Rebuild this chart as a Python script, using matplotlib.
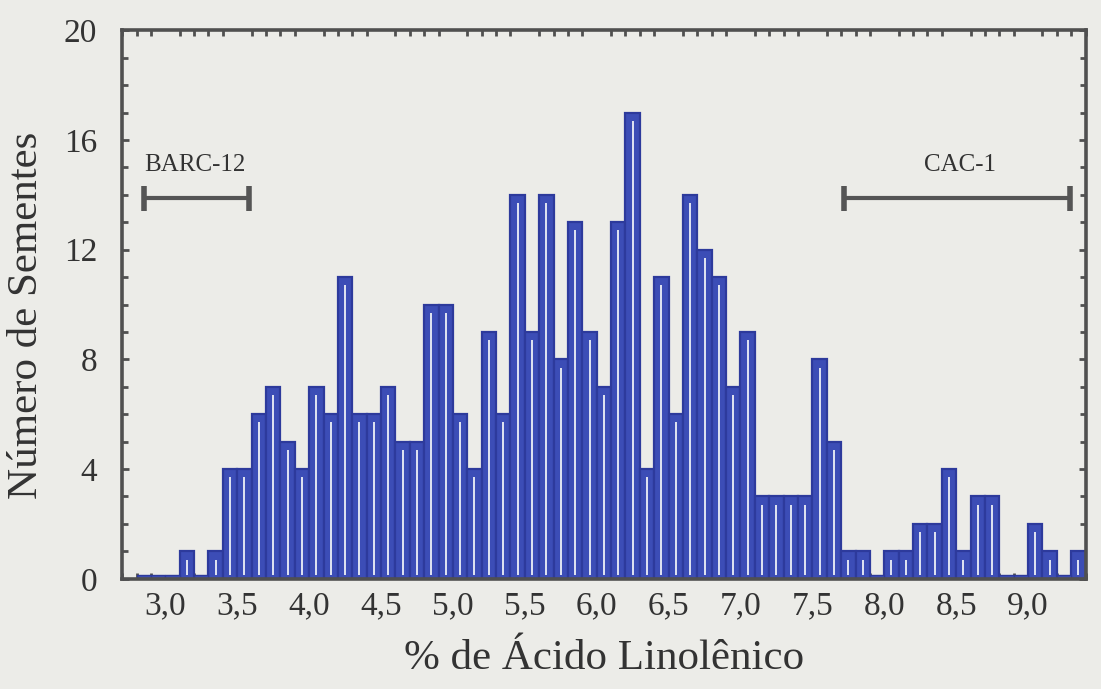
import matplotlib
matplotlib.use('Agg')
import matplotlib.pyplot as plt
import numpy as np
from matplotlib.ticker import MultipleLocator, FuncFormatter

# histogram: bins of 0.1 starting at 2.8
bin_start = 2.8
bin_width = 0.1
counts = [0, 0, 0, 1, 0, 1, 4, 4, 6, 7, 5, 4,
          7, 6, 11, 6, 6, 7, 5, 5, 10, 10, 6, 4,
          9, 6, 14, 9, 14, 8, 13, 9, 7, 13, 17, 4,
          11, 6, 14, 12, 11, 7, 9, 3, 3, 3, 3, 8,
          5, 1, 1, 0, 1, 1, 2, 2, 4, 1, 3, 3,
          0, 0, 2, 1, 0, 1]

# parent ranges
barc12_range = [2.85, 3.58]
cac1_range = [7.72, 9.29]
range_y = 13.9

xticks = [3.0, 3.5, 4.0, 4.5, 5.0, 5.5, 6.0, 6.5, 7.0, 7.5, 8.0, 8.5, 9.0]
yticks = [0, 4, 8, 12, 16, 20]

plt.rcParams['font.family'] = ['Liberation Serif', 'DejaVu Serif']

bg = '#ECECE8'
fig = plt.figure(figsize=(11.01, 6.89), dpi=100, facecolor=bg)
ax = fig.add_axes([0.111, 0.160, 0.875, 0.796], facecolor=bg)

counts = np.array(counts)
lefts = bin_start + bin_width * np.arange(len(counts))

ax.bar(lefts, counts, width=bin_width, align='edge', color='#3C4DB6',
       edgecolor='#2D3A9C', linewidth=1.6, zorder=2)
# white stripe inside each bar (scan hatch)
has = counts > 0
ax.bar(lefts[has] + bin_width / 2, counts[has] - 0.45, bottom=0.15, width=0.014,
       color='#DCE0F0', linewidth=0, zorder=3)
# empty bins show as a thick baseline
empty = counts == 0
ax.bar(lefts[empty], 0.12, width=bin_width, align='edge', color='#3C4DB6',
       edgecolor='#2D3A9C', linewidth=1.0, zorder=2)

# range markers
for rng in (barc12_range, cac1_range):
    ax.plot(rng, [range_y, range_y], color='#555555', lw=3, zorder=4,
            marker='|', markersize=18, markeredgewidth=4, solid_capstyle='butt')
ax.text(2.85, 14.7, 'BARC-12', fontsize=18, ha='left', va='bottom', color='#333333')
ax.text(8.53, 14.7, 'CAC-1', fontsize=18, ha='center', va='bottom', color='#333333')

ax.set_xlim(2.7, 9.4)
ax.set_ylim(0, 20)
ax.set_xticks(xticks)
ax.set_yticks(yticks)
ax.xaxis.set_major_formatter(FuncFormatter(lambda v, _: f'{v:.1f}'.replace('.', ',')))
ax.xaxis.set_minor_locator(MultipleLocator(0.1))
ax.yaxis.set_minor_locator(MultipleLocator(1))

ax.tick_params(axis='both', which='both', direction='in', top=True, right=True,
               color='#505050', width=2)
ax.tick_params(axis='both', which='major', length=5, labelsize=24, labelcolor='#333333')
ax.tick_params(axis='both', which='minor', length=4)
ax.tick_params(axis='x', which='major', length=0, pad=9)
ax.tick_params(axis='x', which='minor', length=4)
ax.tick_params(axis='y', which='major', pad=18)

for s in ax.spines.values():
    s.set_linewidth(2.6)
    s.set_color('#505050')

ax.set_xlabel('% de Ácido Linolênico', fontsize=31, color='#333333', labelpad=13)
ax.set_ylabel('Número de Sementes', fontsize=31, color='#333333')
ax.yaxis.set_label_coords(-0.079, 0.48)

fig.savefig('out.png', dpi=100, facecolor=bg)
